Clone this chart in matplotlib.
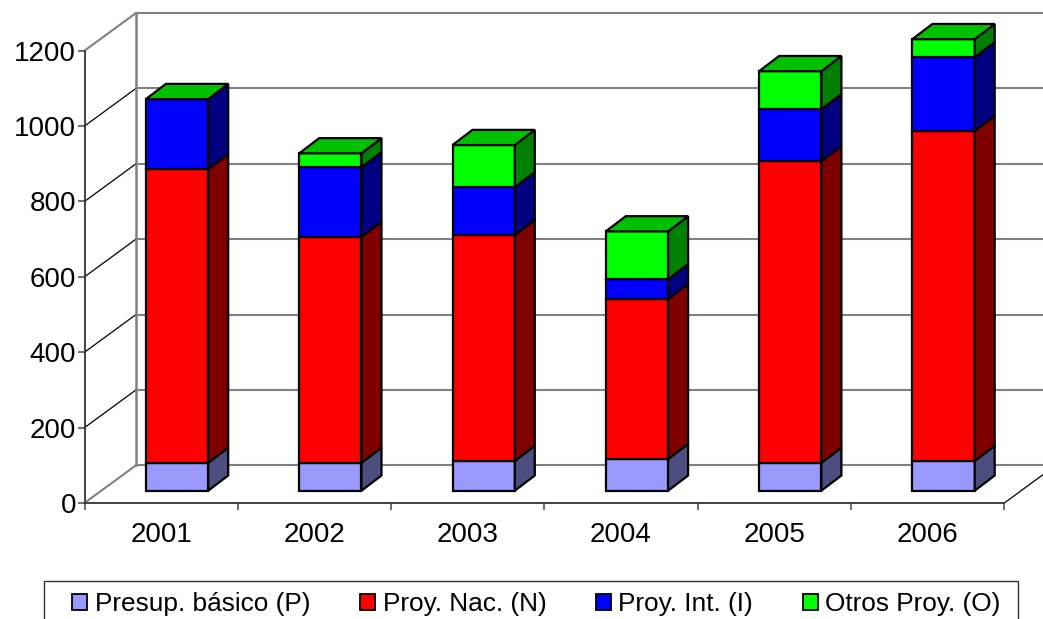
import matplotlib
matplotlib.use("Agg")
import matplotlib.pyplot as plt
import numpy as np
from matplotlib.patches import Patch, Rectangle

plt.rcParams['font.family'] = ['Liberation Sans', 'DejaVu Sans']

# Datos
years = ['2001', '2002', '2003', '2004', '2005', '2006']
presup = [74, 74, 79, 84, 74, 79]
nac = [779, 599, 599, 424, 800, 875]
inter = [186, 185, 127, 53, 138, 196]
otros = [0, 37, 112, 127, 101, 48]
series_labels = ['Presup. básico (P)', 'Proy. Nac. (N)', 'Proy. Int. (I)', 'Otros Proy. (O)']
yticks = [0, 200, 400, 600, 800, 1000, 1200]

W, H = 1043, 619
# caja del plano frontal en pixeles
left, right, top, bottom = 84.5, 1004.3, 50.7, 503.0

fig = plt.figure(figsize=(W / 100, H / 100), dpi=100)
ax = fig.add_axes([left / W, 1 - bottom / H, (right - left) / W, (bottom - top) / H])
ax.set_xlim(0, 6)
ax.set_ylim(0, 1200)

# pasar pixeles de profundidad a unidades de datos
px_x = 6 / (right - left)
px_y = 1200 / (bottom - top)
wall_dx, wall_dy = 51.5 * px_x, 37.7 * px_y
bar_off_x, bar_off_y = 15.9 * px_x, 12.3 * px_y
depth_x, depth_y = 20 * px_x, 15.2 * px_y
bar_w = 62.3 * px_x
grid_c = '#808080'

# paredes y cuadricula
far_right = 6 + wall_dx
for v in yticks:
    ax.plot([wall_dx, far_right], [v + wall_dy, v + wall_dy], color=grid_c, lw=1.5, clip_on=False, zorder=1)
    is_edge = v in (0, 1200)
    ax.plot([0, wall_dx], [v, v + wall_dy], color=grid_c if is_edge else 'black',
            lw=1.5 if is_edge else 0.9, clip_on=False, zorder=1)
ax.plot([wall_dx, wall_dx], [wall_dy, 1200 + wall_dy], color=grid_c, lw=1.8, clip_on=False, zorder=1)
ax.plot([6, far_right], [0, wall_dy], color='black', lw=0.9, clip_on=False, zorder=1)

# barras apiladas
x = np.arange(len(years)) + 0.5 + bar_off_x
stack = [presup, nac, inter, otros]
face = ['#9999FF', '#FF0000', '#0000FF', '#00FF00']
side = ['#4D4D80', '#800000', '#000080', '#008000']
base = np.zeros(len(years))
for vals, fc, sc in zip(stack, face, side):
    vals = np.array(vals)
    ax.bar(x, vals, bar_w, bottom=base + bar_off_y, color=fc, edgecolor='black', lw=1.6,
           clip_on=False, zorder=3)
    for xi, b, v in zip(x, base + bar_off_y, vals):
        xr = xi + bar_w / 2
        ax.fill([xr, xr + depth_x, xr + depth_x, xr], [b, b + depth_y, b + v + depth_y, b + v],
                facecolor=sc, edgecolor='black', lw=1.6, clip_on=False, zorder=3)
    base = base + vals
for xi, t in zip(x, base + bar_off_y):
    xl, xr = xi - bar_w / 2, xi + bar_w / 2
    ax.fill([xl, xr, xr + depth_x, xl + depth_x], [t, t, t + depth_y, t + depth_y],
            facecolor='#00C000', edgecolor='black', lw=1.6, clip_on=False, zorder=3)

# ejes
for s in ['top', 'right']:
    ax.spines[s].set_visible(False)
for s in ['left', 'bottom']:
    ax.spines[s].set_color('#333333')
    ax.spines[s].set_linewidth(1.3)
    ax.spines[s].set_zorder(2)
ax.set_yticks(yticks)
ax.set_xticks(range(7))
ax.set_xticklabels([])
ax.set_xticks(np.arange(len(years)) + 0.5, minor=True)
ax.set_xticklabels(years, minor=True)
ax.tick_params(axis='x', which='minor', length=0, pad=14, labelsize=20)
ax.tick_params(axis='x', which='major', length=5, width=1.2, color='#555555')
ax.tick_params(axis='y', length=5, width=1.2, color='#555555', pad=1, labelsize=20)

# recuadro de la leyenda, cortado por el borde inferior
fig.add_artist(Rectangle((44 / W, -0.02), (1018 - 44) / W, 1 - 581 / H + 0.02,
                         transform=fig.transFigure, facecolor='white',
                         edgecolor='#333333', lw=1.0))
handles = [Patch(facecolor=c, edgecolor='black', lw=1.3) for c in face]
leg = fig.legend(handles, series_labels, ncol=4, loc='upper left',
                 bbox_to_anchor=(72 / W, 1 - 592 / H), borderaxespad=0, borderpad=0,
                 fontsize=18.9, frameon=False,
                 handlelength=0.57, handleheight=0.57, handletextpad=0.3,
                 columnspacing=1.88)

fig.savefig('out.png', dpi=100)
